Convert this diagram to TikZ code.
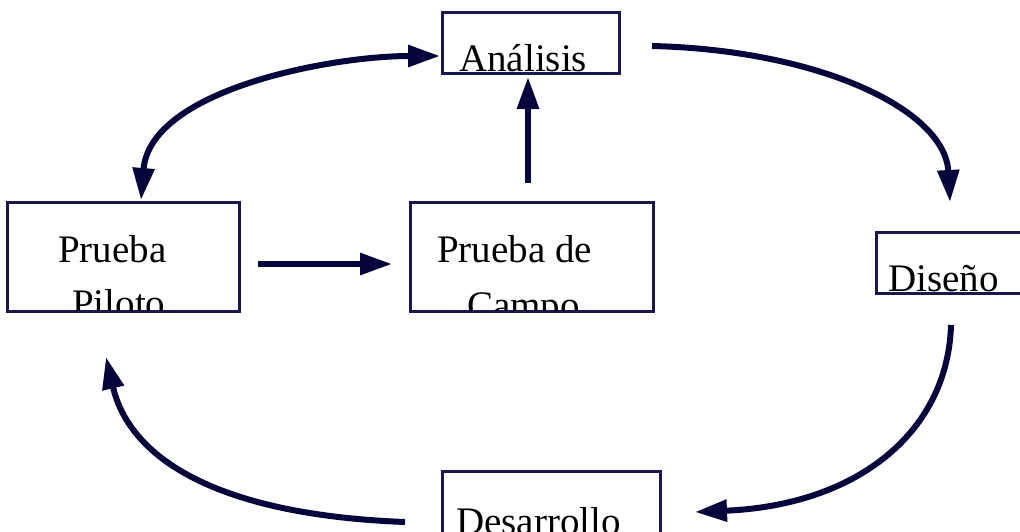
\documentclass[tikz,border=0pt]{standalone}
\usepackage{fontspec}
\setmainfont{Liberation Serif}
\usetikzlibrary{arrows.meta}
\definecolor{navy}{RGB}{5,5,60}
\definecolor{boxline}{RGB}{25,25,80}
\begin{document}
\begin{tikzpicture}[x=1pt,y=-1pt,
  box/.style={draw=boxline,line width=2pt,rectangle,inner sep=0pt},
  lbl/.style={anchor=base west,inner sep=0pt,font=\fontsize{39}{39}\selectfont,text=black},
  conn/.style={draw=navy,line width=6pt,-{Triangle[length=32pt,width=21pt]}},
  conn2/.style={draw=navy,line width=6pt,{Triangle[length=32pt,width=21pt]}-{Triangle[length=32pt,width=21pt]}}]
\useasboundingbox (0,0) rectangle (1020,531);
\fill[white] (0,0) rectangle (1020,531);
% boxes
\node[box,minimum width=176pt,minimum height=60pt] (ana) at (531,43) {};
\node[box,minimum width=231pt,minimum height=108pt] (pil) at (123.5,257) {};
\node[box,minimum width=242pt,minimum height=108pt] (cam) at (532,257) {};
\node[box,minimum width=150pt,minimum height=60pt] (dis) at (952,263) {};
\node[box,minimum width=217pt,minimum height=80pt] (des) at (551.5,512) {};
% labels (clipped by their boxes)
\begin{scope}
\clip (ana.south west) rectangle (ana.north east);
\node[lbl] (tana) at (459,71) {Análisis};
\end{scope}
\begin{scope}
\clip (pil.south west) rectangle (pil.north east);
\node[lbl] (tpil1) at (58,262) {Prueba};
\node[lbl] (tpil2) at (72,316) {Piloto};
\end{scope}
\begin{scope}
\clip (cam.south west) rectangle (cam.north east);
\node[lbl] (tcam1) at (437,262) {Prueba de};
\node[lbl] (tcam2) at (467,318) {Campo};
\end{scope}
\begin{scope}
\clip (dis.south west) rectangle (dis.north east);
\node[lbl] (tdis) at (888,291) {Diseño};
\end{scope}
\begin{scope}
\clip (des.south west) rectangle (des.north east);
\node[lbl] (tdes) at (456,534) {Desarrollo};
\end{scope}
% redraw box borders above the text
\foreach \b in {ana,pil,cam,dis,des}{\draw[boxline,line width=2pt] (\b.south west) rectangle (\b.north east);}
% free end points
\coordinate (a1) at (652,46);
\coordinate (d1) at (950,202);
\coordinate (d2) at (951,325);
\coordinate (e1) at (695,512);
\coordinate (e2) at (405,522);
\coordinate (p1) at (106,357);
\coordinate (p2) at (258,264);
\coordinate (c1) at (392,264);
\coordinate (c2) at (528,183);
\coordinate (a2) at (528,77);
% connectors
\draw[conn2] ([xshift=17.5pt,yshift=2pt]pil.north) .. controls (150,90) and (330,56) .. ([xshift=-2pt,yshift=-13pt]ana.west);
\draw[conn] (a1) .. controls (820,50) and (945,110) .. (d1);
\draw[conn] (d2) .. controls (948,430) and (860,505) .. (e1);
\draw[conn] (e2) .. controls (220,515) and (130,460) .. (p1);
\draw[conn] (p2) -- (c1);
\draw[conn] (c2) -- (a2);
\end{tikzpicture}
\end{document}
